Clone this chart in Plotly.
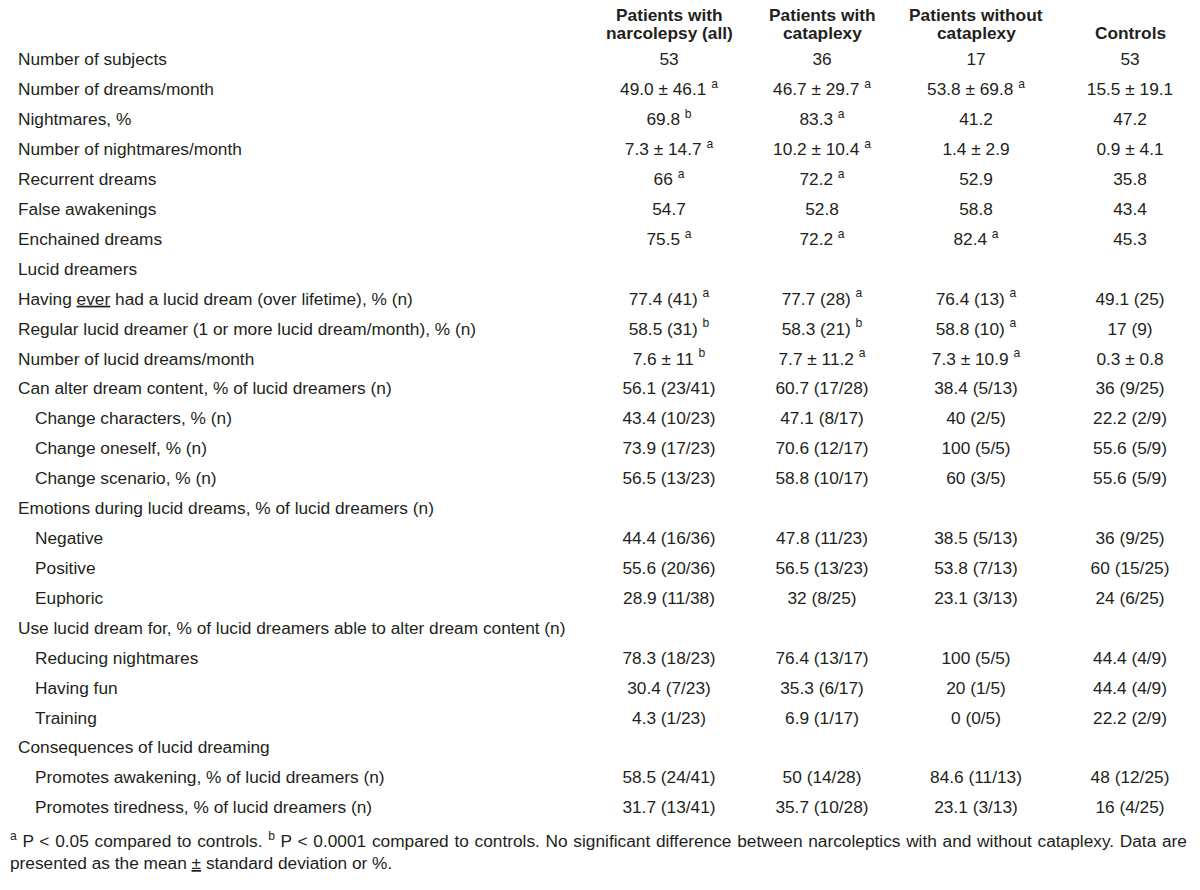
import plotly.graph_objects as go

# ---------------- data ----------------
header_line1 = ["Patients with", "Patients with", "Patients without", ""]
header_line2 = ["narcolepsy (all)", "cataplexy", "cataplexy", "Controls"]

row_labels = [
    "Number of subjects",
    "Number of dreams/month",
    "Nightmares, %",
    "Number of nightmares/month",
    "Recurrent dreams",
    "False awakenings",
    "Enchained dreams",
    "Lucid dreamers",
    "Having <u>ever</u> had a lucid dream (over lifetime), % (n)",
    "Regular lucid dreamer (1 or more lucid dream/month), % (n)",
    "Number of lucid dreams/month",
    "Can alter dream content, % of lucid dreamers (n)",
    "Change characters, % (n)",
    "Change oneself, % (n)",
    "Change scenario, % (n)",
    "Emotions during lucid dreams, % of lucid dreamers (n)",
    "Negative",
    "Positive",
    "Euphoric",
    "Use lucid dream for, % of lucid dreamers able to alter dream content (n)",
    "Reducing nightmares",
    "Having fun",
    "Training",
    "Consequences of lucid dreaming",
    "Promotes awakening, % of lucid dreamers (n)",
    "Promotes tiredness, % of lucid dreamers (n)",
]
row_indent = [0, 0, 0, 0, 0, 0, 0, 0, 0, 0, 0, 0, 1, 1, 1, 0, 1, 1, 1, 0, 1, 1, 1, 0, 1, 1]

narcolepsy_all = ["53", "49.0 ± 46.1", "69.8", "7.3 ± 14.7", "66", "54.7", "75.5", "",
                  "77.4 (41)", "58.5 (31)", "7.6 ± 11", "56.1 (23/41)", "43.4 (10/23)",
                  "73.9 (17/23)", "56.5 (13/23)", "", "44.4 (16/36)", "55.6 (20/36)",
                  "28.9 (11/38)", "", "78.3 (18/23)", "30.4 (7/23)", "4.3 (1/23)", "",
                  "58.5 (24/41)", "31.7 (13/41)"]
narcolepsy_all_sig = ["", "a", "b", "a", "a", "", "a", "", "a", "b", "b", "", "", "", "", "",
                      "", "", "", "", "", "", "", "", "", ""]

with_cataplexy = ["36", "46.7 ± 29.7", "83.3", "10.2 ± 10.4", "72.2", "52.8", "72.2", "",
                  "77.7 (28)", "58.3 (21)", "7.7 ± 11.2", "60.7 (17/28)", "47.1 (8/17)",
                  "70.6 (12/17)", "58.8 (10/17)", "", "47.8 (11/23)", "56.5 (13/23)",
                  "32 (8/25)", "", "76.4 (13/17)", "35.3 (6/17)", "6.9 (1/17)", "",
                  "50 (14/28)", "35.7 (10/28)"]
with_cataplexy_sig = ["", "a", "a", "a", "a", "", "a", "", "a", "b", "a", "", "", "", "", "",
                      "", "", "", "", "", "", "", "", "", ""]

without_cataplexy = ["17", "53.8 ± 69.8", "41.2", "1.4 ± 2.9", "52.9", "58.8", "82.4", "",
                     "76.4 (13)", "58.8 (10)", "7.3 ± 10.9", "38.4 (5/13)", "40 (2/5)",
                     "100 (5/5)", "60 (3/5)", "", "38.5 (5/13)", "53.8 (7/13)",
                     "23.1 (3/13)", "", "100 (5/5)", "20 (1/5)", "0 (0/5)", "",
                     "84.6 (11/13)", "23.1 (3/13)"]
without_cataplexy_sig = ["", "a", "", "", "", "", "a", "", "a", "a", "a", "", "", "", "", "",
                         "", "", "", "", "", "", "", "", "", ""]

controls = ["53", "15.5 ± 19.1", "47.2", "0.9 ± 4.1", "35.8", "43.4", "45.3", "",
            "49.1 (25)", "17 (9)", "0.3 ± 0.8", "36 (9/25)", "22.2 (2/9)",
            "55.6 (5/9)", "55.6 (5/9)", "", "36 (9/25)", "60 (15/25)",
            "24 (6/25)", "", "44.4 (4/9)", "44.4 (4/9)", "22.2 (2/9)", "",
            "48 (12/25)", "16 (4/25)"]
controls_sig = [""] * 26

footnote_lines = [
    "<sup>a</sup> P < 0.05 compared to controls. <sup>b</sup> P < 0.0001 compared to controls. "
    "No significant difference between narcoleptics with and without cataplexy. Data are",
    "presented as the mean <u>±</u> standard deviation or %.",
]

# ---------------- layout constants ----------------
FONT = "Liberation Sans, Arial, sans-serif"
FS = 17.3
FS_NOTE = 17.3
TXT = "#231f20"
COL_X = [661, 814, 968, 1122]
LABEL_X = [10, 27]
NOTE_WORD_SPACING = ["0.9px", "0px"]   # approximates the justified first footnote line

columns = [(narcolepsy_all, narcolepsy_all_sig), (with_cataplexy, with_cataplexy_sig),
           (without_cataplexy, without_cataplexy_sig), (controls, controls_sig)]

rows = list(range(len(row_labels)))

fig = go.Figure()

# row labels
fig.add_trace(go.Scatter(
    x=[LABEL_X[i] for i in row_indent], y=rows, text=row_labels,
    mode="text", textposition="middle right", cliponaxis=False,
    textfont=dict(family=FONT, size=FS, color=TXT), hoverinfo="skip", showlegend=False))

# value columns
for cx, (vals, sigs) in zip(COL_X, columns):
    txt = [v + (f" <sup>{s}</sup>" if s else "") for v, s in zip(vals, sigs)]
    fig.add_trace(go.Scatter(
        x=[cx] * len(txt), y=rows, text=txt, mode="text", textposition="middle center",
        cliponaxis=False,
        textfont=dict(family=FONT, size=FS, color=TXT), hoverinfo="skip", showlegend=False))

# header (annotations, not clipped at the top edge)
for yv, line in ((-1.53, header_line1), (-0.94, header_line2)):
    for cx, t in zip(COL_X, line):
        if t:
            fig.add_annotation(x=cx, y=yv, xref="x", yref="y", text=f"<b>{t}</b>",
                               showarrow=False, xanchor="center", yanchor="middle",
                               font=dict(family=FONT, size=FS, color=TXT))

# footnote
for yv, line, ws in zip((26.05, 26.8), footnote_lines, NOTE_WORD_SPACING):
    fig.add_annotation(x=0, y=yv, xref="x", yref="y",
                       text=f'<span style="word-spacing:{ws}">{line}</span>',
                       showarrow=False, xanchor="left", yanchor="middle", align="left",
                       font=dict(family=FONT, size=FS_NOTE, color=TXT))

# map row index to pixel: row 0 anchored at y=53 px, 29.92 px per row
ROW0 = 53
ROWH = 29.92
fig.update_layout(
    width=1200, height=890, margin=dict(l=0, r=0, t=0, b=0),
    paper_bgcolor="white", plot_bgcolor="white",
    xaxis=dict(range=[0, 1200], visible=False, fixedrange=True),
    yaxis=dict(range=[(890 - ROW0) / ROWH, -ROW0 / ROWH], visible=False, fixedrange=True),
)

fig.write_html("out.html")
